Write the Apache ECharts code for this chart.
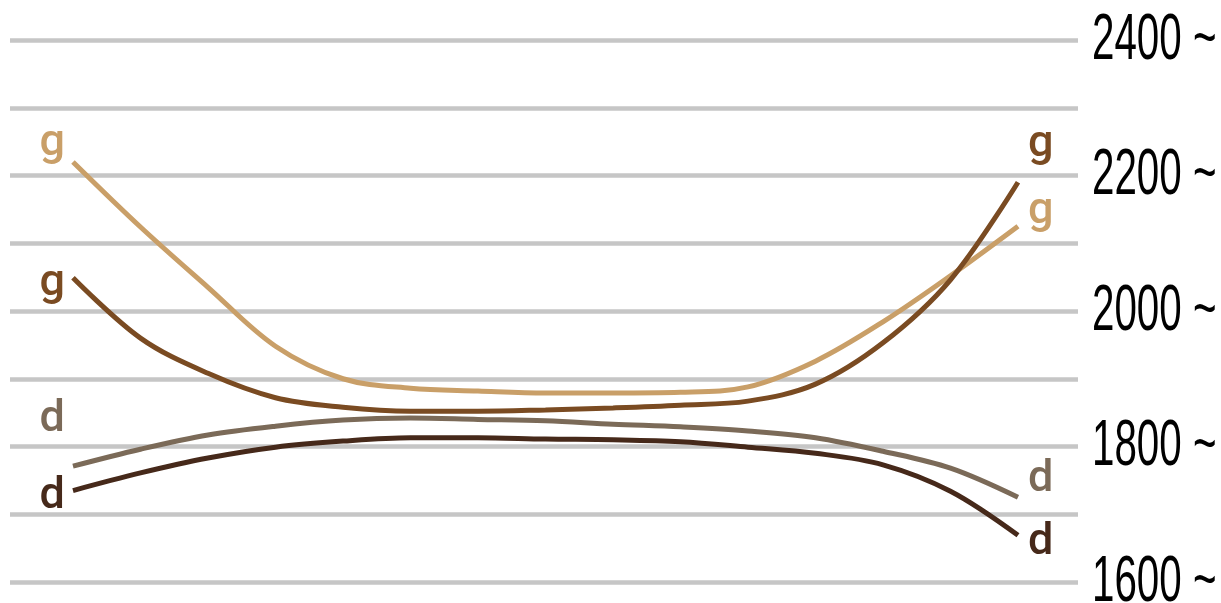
<!DOCTYPE html>
<html>
<head>
<meta charset="utf-8">
<script src="https://cdn.jsdelivr.net/npm/echarts@6/dist/echarts.min.js"></script>
<style>
html,body{margin:0;padding:0;background:#fff;}
#chart{width:1221px;height:603px;}
</style>
</head>
<body>
<div id="chart"></div>
<script>
// sample positions along the x direction
const xPoints = [0,1,2,3,4,5,6,7,8,9,10,11,12,13,14];
// series labels
const seriesNames = ['g','g','d','d'];
// series values
const seriesA = [2220,2124,2035,1948,1900,1886,1882,1879,1879,1880,1888,1926,1984,2052,2125];
const seriesB = [2049,1960,1908,1872,1858,1852,1852,1854,1857,1861,1867,1892,1953,2046,2190];
const seriesC = [1771,1796,1817,1830,1839,1842,1840,1838,1833,1829,1823,1813,1793,1768,1725];
const seriesD = [1735,1761,1783,1799,1808,1813,1813,1811,1810,1807,1799,1790,1773,1734,1669];
// y ticks
const yMin = 1600, yMax = 2400, yStep = 100;
const tickLabels = [1600, 1800, 2000, 2200, 2400];

const colors = ['#c99f68','#7a4b22','#7b6a58','#46291a'];
const allValues = [seriesA, seriesB, seriesC, seriesD];
// label vertical nudges [start, end]
const labelNudge = [[-18,-15],[6,-38],[-46,-18],[6,7]];
const labelFont = "Roboto,'Liberation Sans',sans-serif";

const series = allValues.map((vals, s) => ({
  type: 'line',
  name: seriesNames[s] + s,
  smooth: 0.35,
  showSymbol: true,
  symbol: 'circle',
  symbolSize: 0,
  lineStyle: { color: colors[s], width: 5 },
  itemStyle: { color: colors[s] },
  emphasis: { disabled: true },
  label: { show: false },
  data: vals.map((v, i) => {
    const item = { value: [xPoints[i], v] };
    const last = vals.length - 1;
    if (i === 0 || i === last) {
      item.label = {
        show: true,
        formatter: seriesNames[s],
        position: i === 0 ? 'left' : 'right',
        distance: i === 0 ? 8 : 10,
        offset: [0, labelNudge[s][i === 0 ? 0 : 1]],
        color: colors[s],
        fontSize: 45,
        fontWeight: 500,
        fontFamily: labelFont
      };
    }
    return item;
  })
}));

const chart = echarts.init(document.getElementById('chart'), null, { renderer: 'canvas' });
chart.setOption({
  animation: false,
  backgroundColor: '#ffffff',
  grid: { left: 10, right: 143, top: 40, bottom: 21, containLabel: false, outerBoundsMode: 'none' },
  xAxis: {
    type: 'value',
    min: -0.933,
    max: 14.889,
    show: false
  },
  yAxis: {
    type: 'value',
    position: 'right',
    min: yMin,
    max: yMax,
    interval: yStep,
    axisLine: { show: false },
    axisTick: { show: false },
    splitLine: { show: true, lineStyle: { color: '#c6c6c6', width: 4.5 } },
    axisLabel: { show: false }
  },
  series: series
});

// condensed tick labels placed through the y axis scale
const gridRightPx = chart.convertToPixel({ xAxisIndex: 0 }, 14.889);
chart.setOption({
  graphic: tickLabels.map(t => ({
    type: 'text',
    x: gridRightPx + 14,
    y: chart.convertToPixel({ yAxisIndex: 0 }, t) + 1,
    scaleX: 0.63,
    silent: true,
    style: {
      text: t + ' ~',
      fill: '#000',
      font: "64px 'Liberation Sans', Arial, sans-serif",
      align: 'left',
      verticalAlign: 'middle'
    }
  }))
});
</script>
</body>
</html>
